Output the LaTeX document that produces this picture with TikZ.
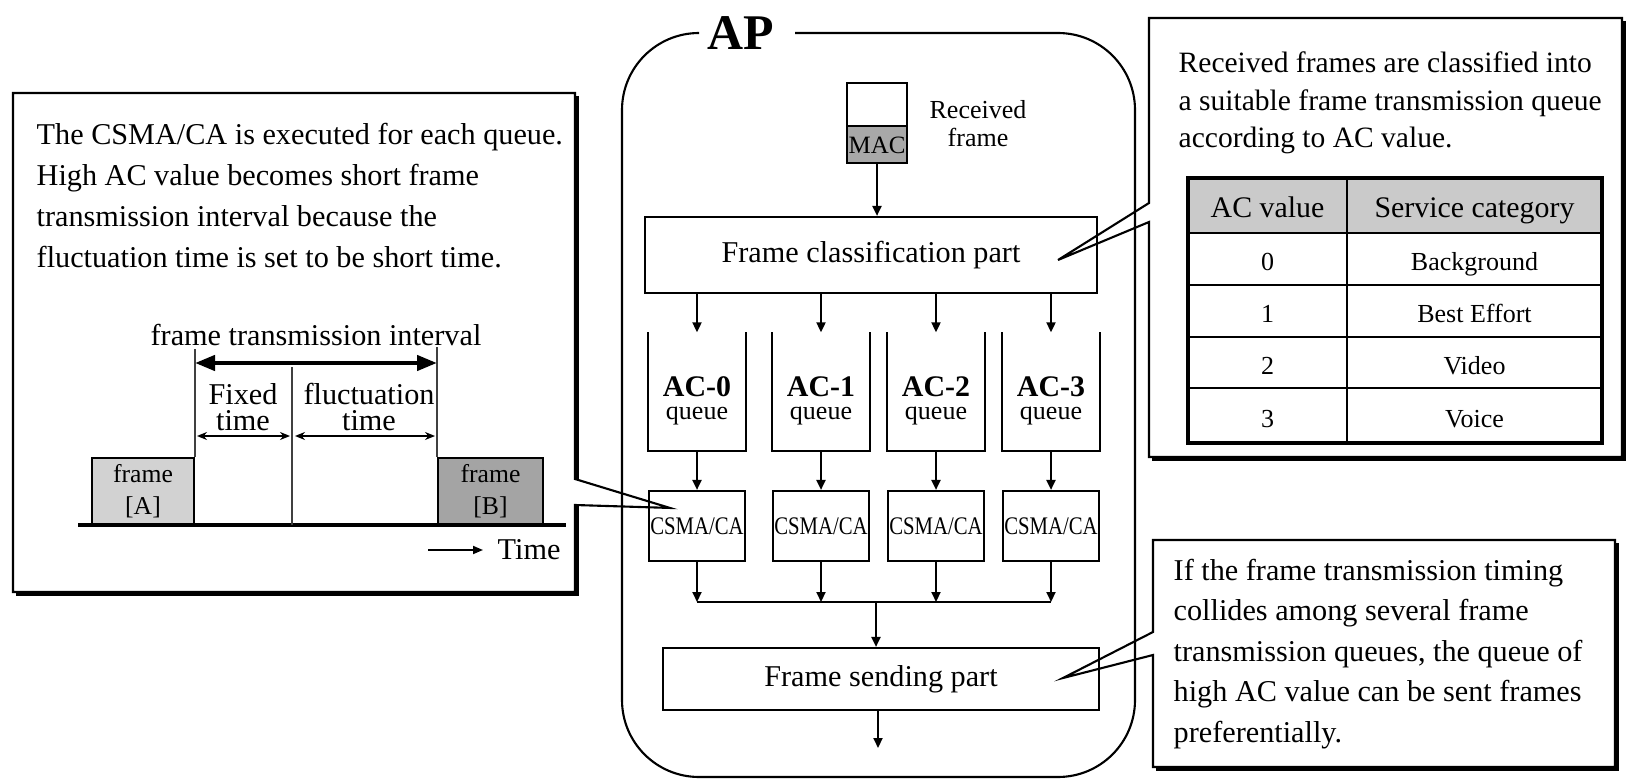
\documentclass[tikz,border=0pt]{standalone}
\usepackage{fontspec}
\setmainfont{Liberation Serif}
\usetikzlibrary{calc,arrows.meta,positioning}
\definecolor{lightg}{HTML}{D2D2D2}
\definecolor{darkg}{HTML}{A4A4A4}
\definecolor{macg}{HTML}{A8A8A8}
\definecolor{hdrg}{HTML}{CACACA}
\tikzset{
  ar/.style={-{Triangle[length=1mm,width=0.9mm]},line width=0.6pt},
  box/.style={draw,line width=0.6pt,inner sep=0pt},
  note/.style={draw,line width=0.6pt,line join=miter},
  shd/.style={line width=0.9pt},
  guide/.style={draw=black!75,line width=0.35pt},
  bigdbl/.style={{Triangle[length=2mm,width=1.5mm]}-{Triangle[length=2mm,width=1.5mm]},line width=1.2pt},
  smalldbl/.style={{Stealth[length=1mm,width=0.8mm]}-{Stealth[length=1mm,width=0.8mm]},line width=0.4pt},
  bodytxt/.style={font=\fontsize{8.6}{11.5}\selectfont,inner sep=0pt},
  smalltxt/.style={font=\fontsize{7.4}{8}\selectfont,inner sep=0pt},
  cell/.style={inner sep=0pt,text height=0.66em,text depth=0pt,font=\fontsize{7.4}{8}\selectfont}
}

\begin{document}
\begin{tikzpicture}[x=0.1mm,y=-0.1mm]
\useasboundingbox (0,0) rectangle (1629,779);
% AP outline and title
\draw[line width=0.6pt,rounded corners=7.7mm] (699,33) -- (622,33) -- (622,777) -- (1135,777) -- (1135,33) -- (795,33);
\node[font=\fontsize{14.2}{15}\selectfont\bfseries,anchor=base,inner sep=0pt] (aplbl) at (741,50) {AP};
% received frame
\fill[macg] (847,126) rectangle (907,163);
\node[box,minimum width=6mm,minimum height=8mm] (mac) at (877,123) {};
\draw[line width=0.5pt] (847,126) -- (907,126);
\node[font=\fontsize{7.1}{8}\selectfont,inner sep=0pt] (mactxt) at (877,145) {MAC};
\node[smalltxt,align=center] (rcv) at (978,124) {Received\\frame};
\node[box,bodytxt,minimum width=45.2mm,minimum height=7.6mm] (cls) at (871,255) {Frame classification part};
\draw[ar] (mac.south) -- (mac.south |- cls.north);
\coordinate (join) at (876,602);
% queues and CSMA/CA
\foreach \i/\x in {0/697,1/821,2/936,3/1051}{
  \node[inner sep=0pt,minimum width=9.6mm,minimum height=11.7mm] (q\i) at (\x,391.5) {};
  \draw[line width=0.6pt] (q\i.north west) |- (q\i.south east) -- (q\i.north east);
  \node[smalltxt,font=\fontsize{7.4}{6.4}\selectfont,align=center] (qt\i) at (\x,401) {{\fontsize{8.5}{6.4}\selectfont\bfseries AC-\i}\\queue};
  \node[box,minimum width=9.6mm,minimum height=7mm,font=\fontsize{7.2}{8}\selectfont] (c\i) at (\x,526) {\scalebox{0.82}[1]{CSMA/CA}};
  \draw[ar] (q\i.north |- cls.south) -- (q\i.north);
  \draw[ar] (q\i.south) -- (c\i.north);
  \draw[ar] (c\i.south) -- (c\i.south |- join);
}
\draw[line width=0.6pt] (c0.south |- join) -- (c3.south |- join);
\node[box,bodytxt,minimum width=43.6mm,minimum height=6.2mm] (snd) at (881,679) {Frame sending part};
\draw[ar] (join) -- (join |- snd.north);
\coordinate (apout) at (878,748);
\draw[ar] (snd.south -| apout) -- (apout);

% left note with timing chart
\coordinate (ltip) at ($(c0.north west)+(22,18)$);
\draw[note] (13,93) -- (575,93) -- (575,479) -- (ltip) -- (575,505) -- (575,592) -- (13,592) -- cycle;
\draw[shd] (577,96) -- (577,479) (577,506) -- (577,594) -- (16,594);
\node[bodytxt,font=\fontsize{8.6}{11.7}\selectfont,anchor=base west,align=left] (lnote) at (36,268) {The CSMA/CA is executed for each queue.\\High AC value becomes short frame\\transmission interval because the\\fluctuation time is set to be short time.};
\node[box,fill=lightg,minimum width=10.2mm,minimum height=6.7mm,font=\fontsize{7.3}{9.1}\selectfont,align=center] (fA) at (143,491.5) {frame\\{[A]}};
\node[box,fill=darkg,minimum width=10.5mm,minimum height=6.7mm,font=\fontsize{7.3}{9.1}\selectfont,align=center] (fB) at (490.5,491.5) {frame\\{[B]}};
\draw[line width=1.2pt] (78,525) -- (566,525);
\coordinate (mid) at (292,525);
\draw[guide] (fA.north east) -- ++(0,-108);
\draw[guide] (fB.north west) -- ++(0,-110);
\draw[guide] (mid) -- ++(0,-158);
\coordinate (ia) at (195,363);
\coordinate (ib) at (437,363);
\draw[bigdbl] (ia) -- (ib);
\node[bodytxt,anchor=base] (fti) at (316,345) {frame transmission interval};
\coordinate (fx0) at (197,436);
\coordinate (fx1) at (290,436);
\coordinate (fl0) at (295,436);
\coordinate (fl1) at (435,436);
\draw[smalldbl] (fx0) -- (fx1);
\draw[smalldbl] (fl0) -- (fl1);
\node[bodytxt,font=\fontsize{8.6}{7.5}\selectfont,align=center] (fixed) at (243,407) {Fixed\\time};
\node[bodytxt,font=\fontsize{8.6}{7.5}\selectfont,align=center] (fluct) at (369,407) {fluctuation\\time};
\node[bodytxt,anchor=west] (time) at (497,550) {Time};
\coordinate (t0) at (428,550);
\draw[-{Triangle[length=1mm,width=0.8mm]},line width=0.5pt,shorten >=1.4mm] (t0) -- (time.west);

% top right note with AC table
\coordinate (rtip) at (1058,260);
\draw[note] (1149,203) -- (1149,18) -- (1622,18) -- (1622,457) -- (1149,457) -- (1149,222) -- (rtip) -- cycle;
\draw[shd] (1624,21) -- (1624,459) -- (1152,459);
\node[bodytxt,font=\fontsize{8.4}{10.8}\selectfont,anchor=base west,align=left] (rnote) at (1178,148) {Received frames are classified into\\a suitable frame transmission queue\\according to AC value.};
\fill[hdrg] (1188,178) rectangle (1602,233);
\draw[line width=0.5pt] (1347,178) -- (1347,443);
\foreach \y in {233,285,337,388}{
  \draw[line width=0.5pt] (1188,\y) -- (1602,\y);
}
\draw[line width=1.1pt] (1188,178) rectangle (1602,443);
\node[cell,font=\fontsize{8.5}{9}\selectfont] (hac) at (1267.5,205.5) {AC value};
\node[cell,font=\fontsize{8.5}{9}\selectfont] (hsc) at (1474.5,205.5) {Service category};
\foreach \v/\s/\y in {0/Background/259,1/Best Effort/311,2/Video/362.5,3/Voice/415.5}{
  \node[cell] (ac\v) at (1267.5,\y) {\v};
  \node[cell] (sc\v) at (1474.5,\y) {\s};
}

% bottom right note
\coordinate (btip) at (1063,678);
\draw[note] (1153,632) -- (1153,540) -- (1615,540) -- (1615,767) -- (1153,767) -- (1153,655) -- (btip) -- cycle;
\draw[shd] (1617,543) -- (1617,769) -- (1156,769);
\node[bodytxt,anchor=base west,align=left] (bnote) at (1173,742) {If the frame transmission timing\\collides among several frame\\transmission queues, the queue of\\high AC value can be sent frames\\preferentially.};
\end{tikzpicture}
\end{document}
